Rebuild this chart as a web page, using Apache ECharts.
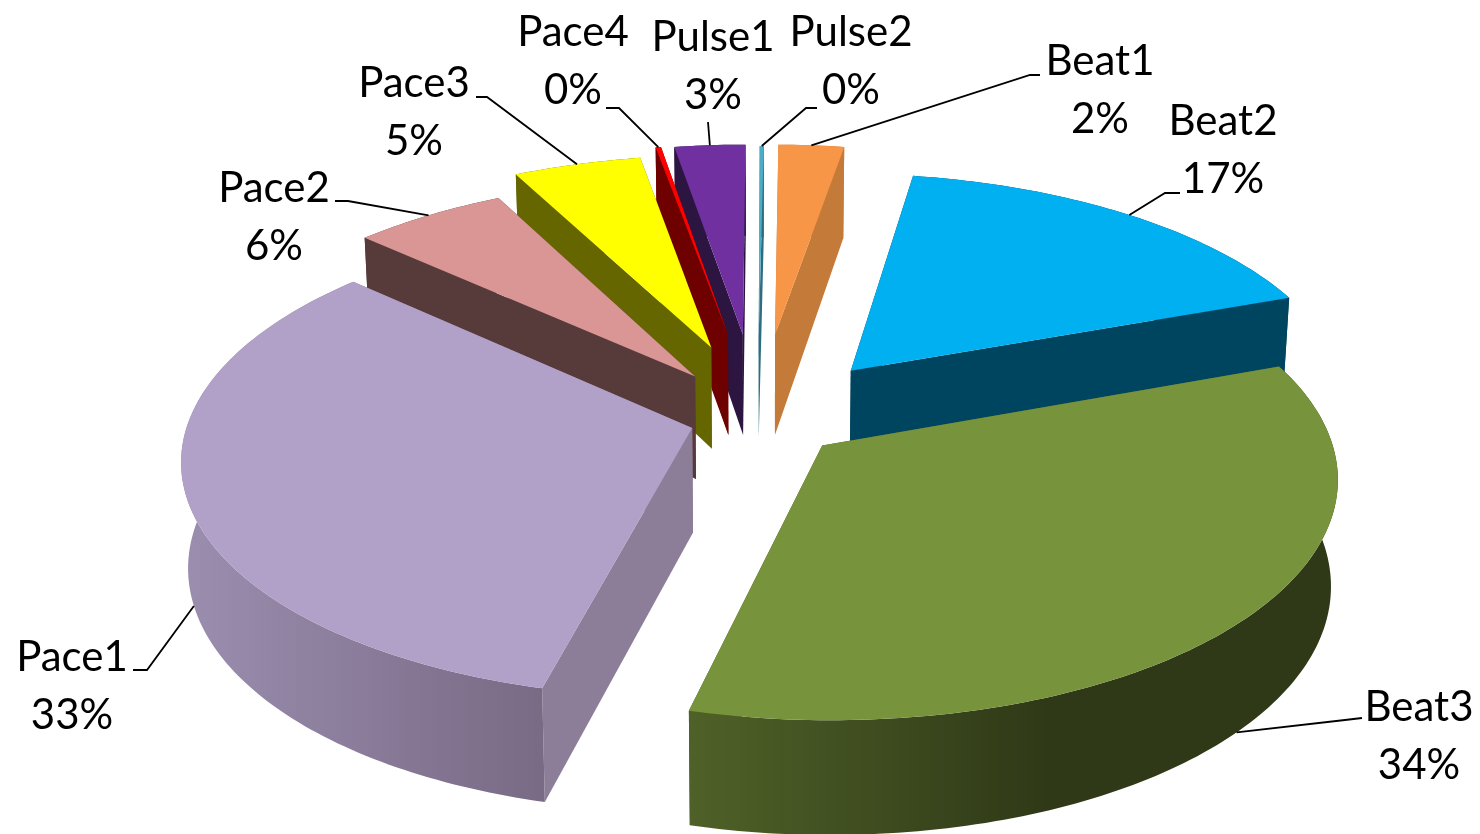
<!DOCTYPE html>
<html>
<head>
<meta charset="utf-8">
<script src="https://cdn.jsdelivr.net/npm/echarts@6/dist/echarts.min.js"></script>
<style>html,body{margin:0;padding:0;background:#fff}#c{width:1480px;height:834px}</style>
</head>
<body>
<div id="c"></div>
<script>
// Data (percent of the whole)
const categories = ['Beat1','Beat2','Beat3','Pace1','Pace2','Pace3','Pace4','Pulse1','Pulse2'];
const values     = [2.45, 16.8, 34.49, 32.86, 5.65, 4.75, 0.2, 2.65, 0.15];
// Slice explosion, as an offset in pie radii (right, back)
const explodeX = [0.023, 0.177, 0.114, -0.142, -0.14, -0.109, -0.075, -0.044, -0.011];
const explodeY = [0.358, 0.191, -0.133, -0.06, 0.165, 0.297, 0.358, 0.358, 0.35];

// Styles
const topColors  = ['#f79646','#00b0f0','#77933c','#b1a0c7','#d99694','#ffff00','#ff0000','#7030a0','#4bacc6'];
const sideColors = ['#c47a38','#00455f','#4f6128','#8c7d98','#573a3a','#666600','#6f0000','#2c1540','#2f6c80'];
const wallStops  = {
  2: {x0: 688, x1: 1330, stops: [[0,'#4f6128'],[0.56,'#2f3917'],[1,'#2f3917']]},
  3: {x0: 190, x1: 540,  stops: [[0,'#9a8dae'],[1,'#796a85']]}
};
const drawOrder = [1,0,8,7,6,5,4,3,2];

// Projection of the tilted pie
const startAngle = 0.6;
const view = {cx: 764, cy: 414, R: 502, a: 232, p: 0.125, depth0: 104, depthSlope: 9.5, converge: 0.988};

// Label layout
const labelCenters = [[1100,90],[1223,150],[1419,736],[72,686],[274,217],[414,112],[573,61],[713,66],[851,61]];
const leaderElbows = [[1030,75],[1165,193],[1345,720],[147,670],[348,201],[487,97],[619,108],[708,122],[806,108]];
const leaderEnds   = [[1040,75],[1180,193],[1362,718],[133,670],[335,201],[476,97],[606,108],[708,122],[817,108]];
const labelFont = {family: 'Lato', size: 42, lineHeight: 58};

const total = values.reduce((s, v) => s + v, 0);
const rad = d => d * Math.PI / 180;

function sliceAngles(i) {
  let acc = 0;
  for (let k = 0; k < i; k++) acc += values[k];
  return [startAngle + acc / total * 360, startAngle + (acc + values[i]) / total * 360];
}
function project(X, Y, z) {
  const w = 1 + view.p * Y;
  let x = view.R * X / w;
  let y = view.cy - view.a * Y / w;
  if (z) {
    x *= view.converge;
    y += view.depth0 - view.depthSlope * Y;
  }
  return [view.cx + x, y];
}

function renderItem(params, api) {
  const i = api.value(0);
  const [a0, a1] = sliceAngles(i);
  const mid = (a0 + a1) / 2;
  const ax = explodeX[i];
  const ay = explodeY[i];
  const rim = (t, z) => project(ax + Math.sin(rad(t)), ay + Math.cos(rad(t)), z);
  const apex = z => project(ax, ay, z);

  const arcTop = [], arcBottom = [];
  const steps = Math.max(2, Math.ceil(a1 - a0));
  for (let s = 0; s <= steps; s++) {
    const t = a0 + (a1 - a0) * s / steps;
    arcTop.push(rim(t, 0));
    arcBottom.push(rim(t, 1));
  }
  const children = [];
  const side = sideColors[i];
  const poly = (points, fill) => ({type: 'polygon', silent: true, shape: {points}, style: {fill}});

  // radial faces
  children.push(poly([apex(0), rim(a0,0), rim(a0,1), apex(1)], side));
  children.push(poly([apex(0), rim(a1,0), rim(a1,1), apex(1)], side));
  // outer wall
  let wallFill = side;
  if (wallStops[i]) {
    const g = wallStops[i];
    wallFill = new echarts.graphic.LinearGradient(g.x0, 0, g.x1, 0,
      g.stops.map(s => ({offset: s[0], color: s[1]})), true);
  }
  children.push(poly(arcTop.concat(arcBottom.slice().reverse()), wallFill));
  // top face
  children.push(poly([apex(0)].concat(arcTop), topColors[i]));

  // leader and label
  const anchor = rim(mid, Math.cos(rad(mid)) < -0.1 ? 1 : 0);
  children.push({type: 'polyline', silent: true,
    shape: {points: [anchor, leaderElbows[i], leaderEnds[i]]},
    style: {stroke: '#000', lineWidth: 1.8, fill: null}});
  children.push({type: 'text', silent: true, style: {
    text: categories[i] + '\n' + Math.round(api.value(1) / total * 100) + '%',
    x: labelCenters[i][0], y: labelCenters[i][1],
    align: 'center', verticalAlign: 'middle',
    fontFamily: labelFont.family, fontSize: labelFont.size, lineHeight: labelFont.lineHeight,
    fill: '#000'
  }});
  return {type: 'group', children};
}

const chart = echarts.init(document.getElementById('c'), null, {renderer: 'canvas'});
chart.setOption({
  animation: false,
  backgroundColor: '#fff',
  series: [{
    type: 'custom',
    coordinateSystem: 'none',
    renderItem,
    data: drawOrder.map(i => [i, values[i]])
  }]
});
</script>
</body>
</html>
